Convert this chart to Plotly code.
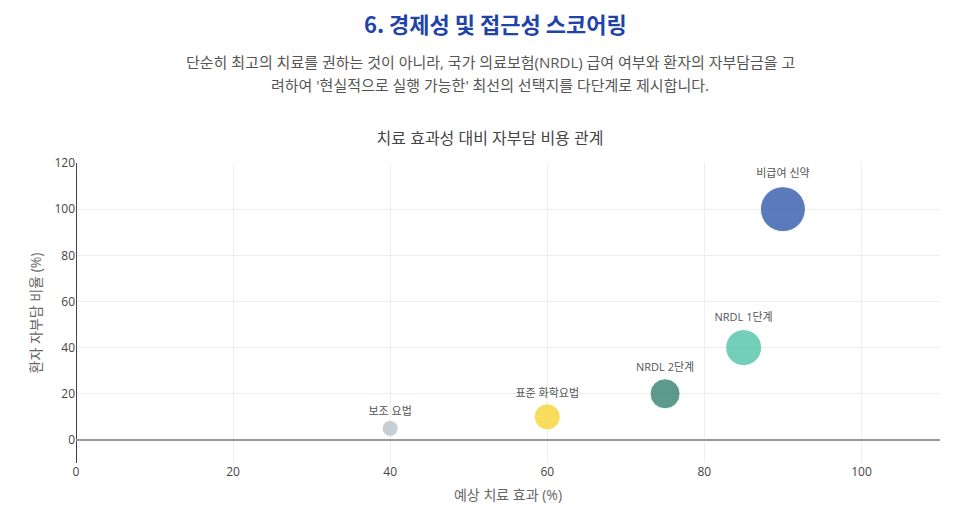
import plotly.graph_objects as go

options = ["보조 요법", "표준 화학요법", "NRDL 2단계", "NRDL 1단계", "비급여 신약"]
efficacy = [40, 60, 75, 85, 90]
copay = [5, 10, 20, 40, 100]
bubble = [16, 26, 30, 36, 45]
colors = ["#bac4cc", "#f7d433", "#37816f", "#51c3aa", "#325aac"]

FONT = "Open Sans, Noto Sans CJK KR"

W, H = 975, 513
ML, MR, MT, MB = 68, 43, 155, 58
PW, PH = W - ML - MR, H - MT - MB


def px_x(v):
    return (v - ML) / PW


def px_y(v):
    return (H - MB - v) / PH


fig = go.Figure()
fig.add_trace(go.Scatter(
    x=efficacy, y=copay, mode="markers+text",
    text=options, textposition="top center",
    textfont=dict(family=FONT, size=11, color="#555"),
    marker=dict(size=bubble, color=colors, opacity=0.8,
                line=dict(color="white", width=1)),
    showlegend=False, hoverinfo="x+y+text",
))

fig.update_layout(
    width=W, height=H,
    paper_bgcolor="white", plot_bgcolor="white",
    font=dict(family=FONT, color="#444", size=12),
    margin=dict(l=ML, r=MR, t=MT, b=MB),
    title=dict(text="치료 효과성 대비 자부담 비용 관계", x=(482 / W), xanchor="center",
               xref="container",
               y=1 - 130 / H, yanchor="middle",
               font=dict(family=FONT, size=16, color="#444")),
    xaxis=dict(range=[0, 110], dtick=20, gridcolor="#eeeeee",
               zeroline=True, zerolinecolor="#444", zerolinewidth=1,
               title=dict(text="예상 치료 효과 (%)", font=dict(size=14, color="#666"), standoff=11),
               tickfont=dict(size=12, color="#444"), showline=False),
    yaxis=dict(range=[-10, 120], dtick=20, gridcolor="#eeeeee",
               zeroline=True, zerolinecolor="#999", zerolinewidth=2,
               title=dict(text="환자 자부담 비율 (%)", font=dict(size=14, color="#666"), standoff=9),
               tickfont=dict(size=12, color="#444"), showline=False),
    annotations=[
        dict(text="<b>6. 경제성 및 접근성 스코어링</b>", xref="paper", yref="paper",
             x=px_x(487), xanchor="center", y=px_y(15), yanchor="middle",
             showarrow=False, font=dict(family="Noto Sans CJK KR", size=22, color="#1f43a8")),
        dict(text="단순히 최고의 치료를 권하는 것이 아니라, 국가 의료보험(NRDL) 급여 여부와 환자의 자부담금을 고",
             xref="paper", yref="paper", x=px_x(482), xanchor="center",
             y=px_y(54), yanchor="middle",
             showarrow=False, font=dict(family=FONT, size=15, color="#555")),
        dict(text="려하여 '현실적으로 실행 가능한' 최선의 선택지를 다단계로 제시합니다.",
             xref="paper", yref="paper", x=px_x(482), xanchor="center",
             y=px_y(77), yanchor="middle",
             showarrow=False, font=dict(family=FONT, size=15, color="#555")),
    ],
)

fig.write_html("out.html")
